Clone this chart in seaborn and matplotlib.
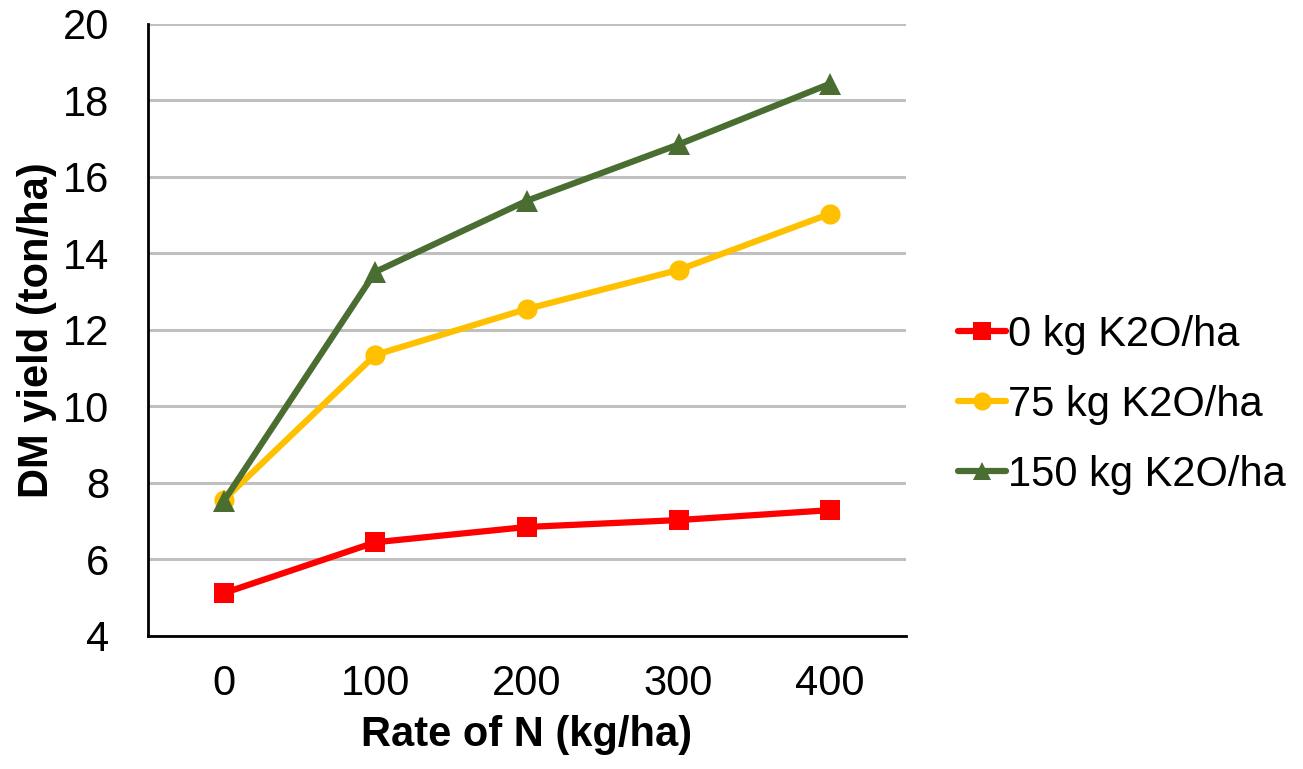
import matplotlib
matplotlib.use("Agg")
import matplotlib.pyplot as plt
import seaborn as sns
import pandas as pd

n_rates = ["0", "100", "200", "300", "400"]
k0 = [5.12, 6.45, 6.85, 7.03, 7.29]
k75 = [7.56, 11.35, 12.55, 13.57, 15.04]
k150 = [7.53, 13.52, 15.38, 16.85, 18.44]
series_names = ["0 kg K2O/ha", "75 kg K2O/ha", "150 kg K2O/ha"]
colors = ["#FF0000", "#FFC000", "#4A6E31"]
markers = ["s", "o", "^"]
y_ticks = [4, 6, 8, 10, 12, 14, 16, 18, 20]

rows = []
for name, vals in zip(series_names, [k0, k75, k150]):
    for r, v in zip(n_rates, vals):
        rows.append({"N": r, "DM": v, "K": name})
df = pd.DataFrame(rows)

sns.set_style("white")
plt.rcParams["font.family"] = ["Liberation Sans", "DejaVu Sans"]
plt.rcParams["text.color"] = "black"
plt.rcParams["axes.labelcolor"] = "black"

fig = plt.figure(figsize=(13.03, 7.69), dpi=100)
ax = fig.add_axes([0.1136, 0.173, 0.5817, 0.7958])

for name, c, m in zip(series_names, colors, markers):
    sub = df[df["K"] == name]
    sns.lineplot(data=sub, x="N", y="DM", ax=ax, color=c, marker=m,
                 markersize=14.5 if m != "^" else 16, markeredgewidth=0,
                 linewidth=4.5, label=name, sort=False)

ax.set_xlim(-0.5, 4.5)
ax.set_ylim(4, 20)
ax.set_yticks(y_ticks)
ax.yaxis.grid(True, color="#C0C0C0", linewidth=2.2)
ax.xaxis.grid(False)
ax.set_axisbelow(True)
for s in ["top", "right"]:
    ax.spines[s].set_visible(False)
for s in ["left", "bottom"]:
    ax.spines[s].set_color("black")
    ax.spines[s].set_linewidth(2)
ax.tick_params(axis="both", length=0, labelsize=30, colors="black")
ax.tick_params(axis="y", pad=28)
ax.tick_params(axis="x", pad=20)
ax.set_xlabel("Rate of N (kg/ha)", fontsize=30, fontweight="bold",
              labelpad=8, color="black")
ax.set_ylabel("DM yield (ton/ha)", fontsize=30, fontweight="bold",
              labelpad=4, color="black")

leg = ax.legend(loc="center left", bbox_to_anchor=(1.047, 0.378), frameon=False,
                fontsize=30, handlelength=1.15, handletextpad=0.05,
                labelspacing=0.72, borderaxespad=0)
for h in leg.legend_handles:
    h.set_markersize(13)
for t in leg.get_texts():
    t.set_color("black")

fig.savefig("out.png", dpi=100)
